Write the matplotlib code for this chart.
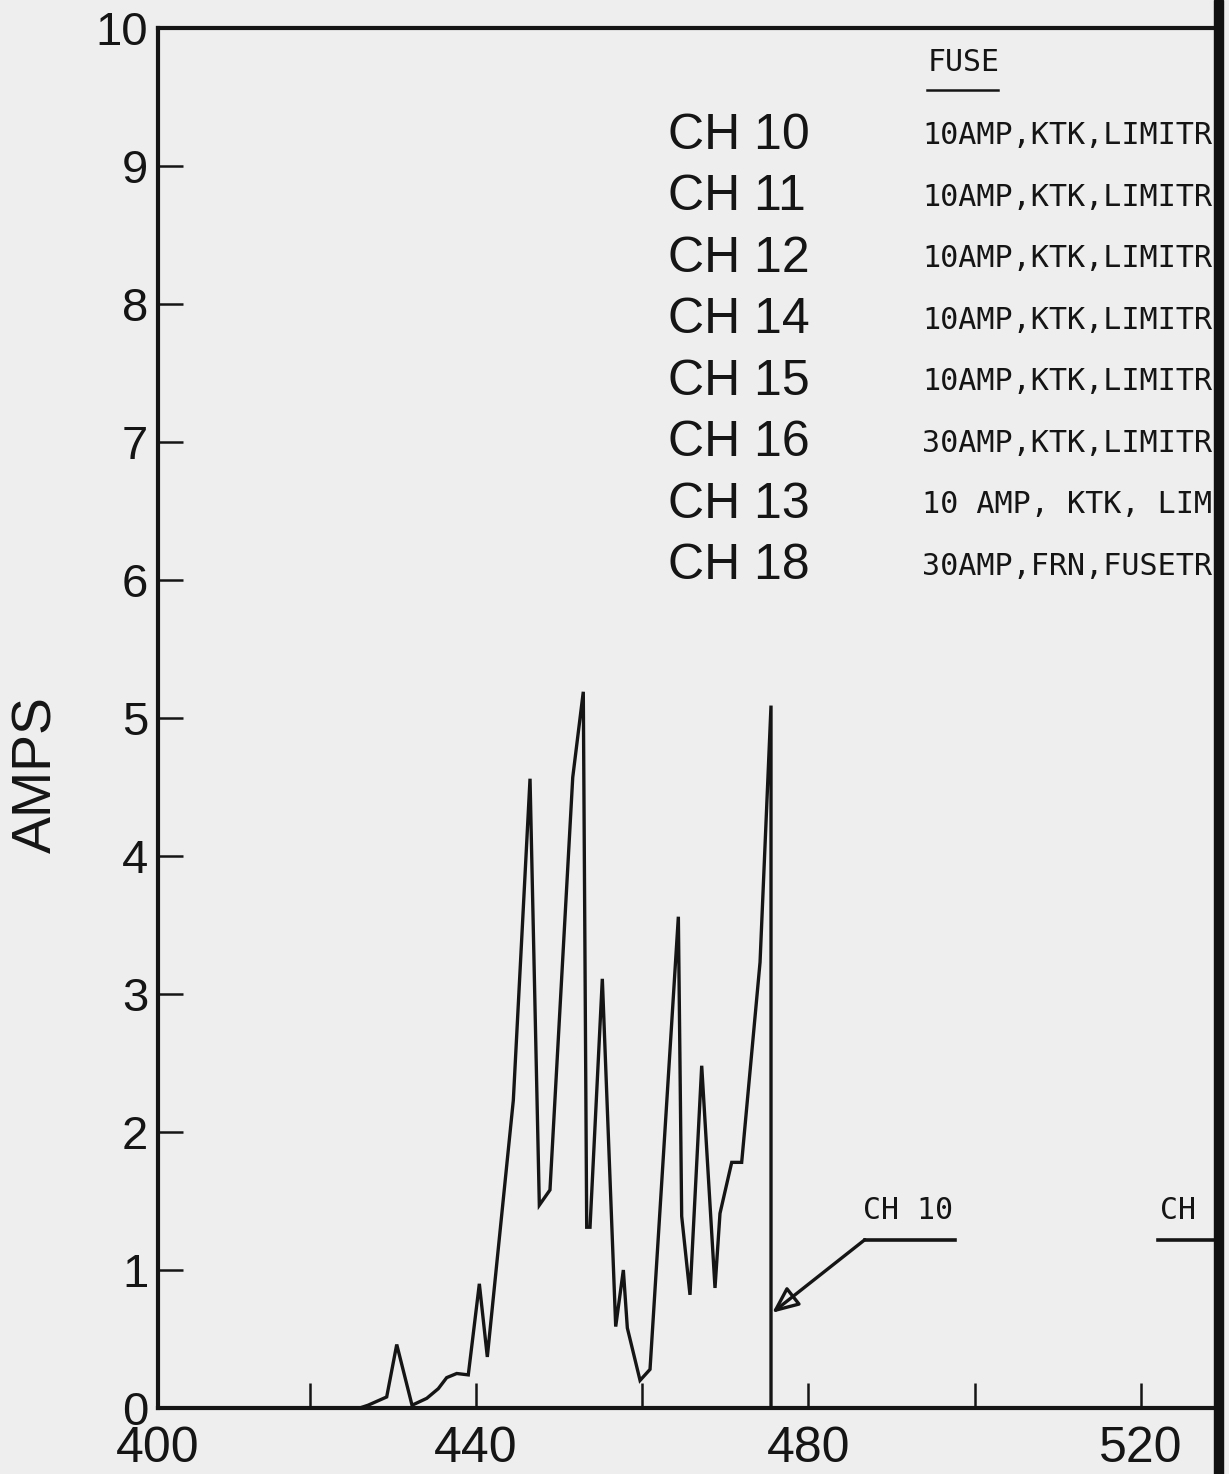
import matplotlib
matplotlib.use("Agg")
import matplotlib.pyplot as plt
from matplotlib.patches import Rectangle
from matplotlib.lines import Line2D

# ---- data ----
time_vals = [426.0, 427.0, 429.25, 430.46, 432.3, 434.07, 435.46, 436.47, 437.68, 439.07,
             440.40, 441.36, 444.49, 446.50, 447.62, 448.90, 451.64, 452.91, 453.32, 453.72,
             455.20, 456.81, 457.73, 458.21, 459.74, 460.94, 464.35, 464.75, 465.75, 467.16,
             468.76, 469.36, 470.77, 471.97, 474.18, 475.50, 475.50]
amps_vals = [0.0, 0.02, 0.08, 0.46, 0.02, 0.07, 0.14, 0.22, 0.25, 0.24,
             0.90, 0.37, 2.23, 4.56, 1.47, 1.58, 4.57, 5.19, 1.31, 1.31,
             3.11, 0.59, 1.00, 0.58, 0.20, 0.28, 3.56, 1.39, 0.82, 2.48,
             0.87, 1.41, 1.78, 1.78, 3.23, 5.09, 0.0]

channels = ["CH 10", "CH 11", "CH 12", "CH 14", "CH 15", "CH 16", "CH 13", "CH 18"]
fuses = ["10AMP,KTK,LIMITR", "10AMP,KTK,LIMITR", "10AMP,KTK,LIMITR",
         "10AMP,KTK,LIMITR", "10AMP,KTK,LIMITR", "30AMP,KTK,LIMITR",
         "10 AMP, KTK, LIM", "30AMP,FRN,FUSETR"]

x_tick_pos = [420, 440, 460, 480, 500, 520]
x_tick_labels = ["", "440", "", "480", "", "520"]
y_ticks = list(range(0, 11))

XMIN, XMAX = 401.73, 528.93

# ---- figure ----
bg = "#eeeeee"
W, H = 1229, 1474
fig = plt.figure(figsize=(W / 100, H / 100), dpi=100, facecolor=bg)
ax = fig.add_axes([158 / W, 1 - 1408 / H, (1215 - 158) / W, (1408 - 28) / H])
ax.set_facecolor(bg)

ink = "#151515"
ax.plot(time_vals, amps_vals, color=ink, lw=2.4, solid_joinstyle="miter", zorder=3)

ax.set_xlim(XMIN, XMAX)
ax.set_ylim(0, 10)

for s in ["left", "bottom", "top"]:
    ax.spines[s].set_linewidth(3.0)
    ax.spines[s].set_color(ink)
ax.spines["right"].set_visible(False)

ax.set_xticks([XMIN] + x_tick_pos)
ax.set_xticklabels(["400"] + x_tick_labels, fontsize=36, family="Liberation Sans", color=ink)
ax.set_yticks(y_ticks)
ax.set_yticklabels([str(v) for v in y_ticks], fontsize=34, family="Liberation Sans", color=ink)
ax.tick_params(axis="x", direction="in", length=18, width=1.8, pad=13, color=ink)
ax.tick_params(axis="y", direction="in", length=18, width=1.8, pad=7, color=ink)

fig.text(37 / W, 1 - 775 / H, "AMPS", rotation=90, fontsize=40, family="Liberation Sans",
         ha="center", va="center", color=ink)

# ---- legend table ----
mono = "DejaVu Sans Mono"
row0, step = 9.22, -0.446
for i, (ch, fu) in enumerate(zip(channels, fuses)):
    yy = row0 + i * step
    ax.text(463.1, yy, ch, fontsize=36, family="Liberation Sans", ha="left", va="center", color=ink)
    ax.text(493.7, yy, fu, fontsize=21.7, family=mono, ha="left", va="center", color=ink)
ax.text(494.3, 9.75, "FUSE", fontsize=21.5, family=mono, ha="left", va="center", color=ink)
ax.add_line(Line2D([494.3, 502.8], [9.55, 9.55], color=ink, lw=1.8))

# ---- annotations ----
ax.annotate("", xy=(475.65, 0.69), xytext=(486.8, 1.22),
            arrowprops=dict(arrowstyle="-|>,head_length=1.6,head_width=0.7",
                            fc="none", ec=ink, lw=2.4, shrinkA=0, shrinkB=0))
ax.add_line(Line2D([486.8, 497.6], [1.22, 1.22], color=ink, lw=2.6))
ax.text(486.6, 1.43, "CH 10", fontsize=21.5, family=mono, ha="left", va="center", color=ink)
ax.add_line(Line2D([522.1, 529.5], [1.22, 1.22], color=ink, lw=2.6, clip_on=False))
ax.text(522.3, 1.43, "CH", fontsize=21.5, family=mono, ha="left", va="center", color=ink)

# scan edge band
fig.patches.append(Rectangle((1214 / W, 0), 9 / W, 1, transform=fig.transFigure,
                             color="#111111", zorder=10))

fig.savefig("out.png", dpi=100, facecolor=bg)
